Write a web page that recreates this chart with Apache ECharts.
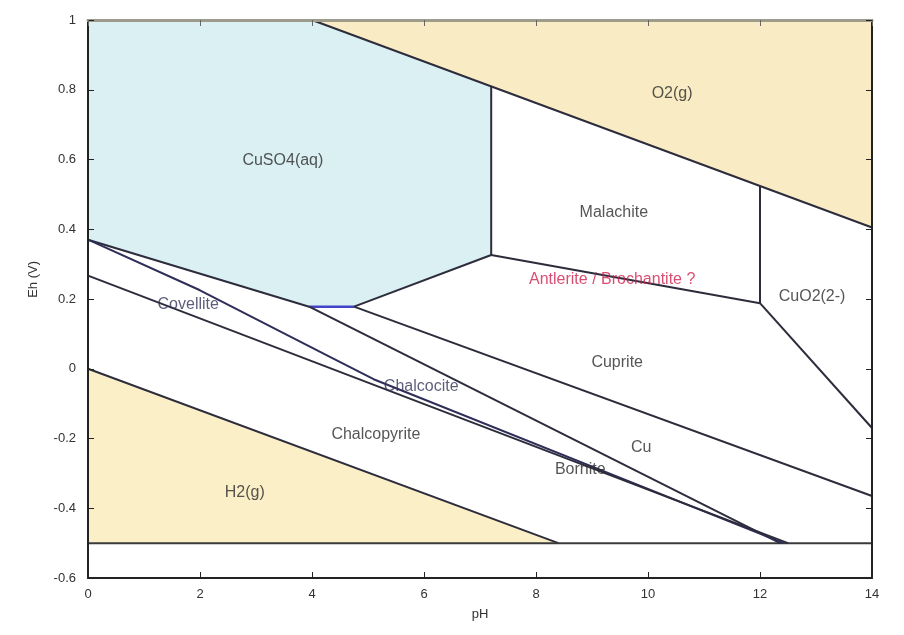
<!DOCTYPE html>
<html>
<head>
<meta charset="utf-8">
<script src="https://cdn.jsdelivr.net/npm/echarts@6/dist/echarts.min.js"></script>
<style>
html,body{margin:0;padding:0;background:#fff;}
#chart{width:904px;height:635px;}
</style>
</head>
<body>
<div id="chart"></div>
<script>
// ---- data (pH, Eh in V) ----
const xTicks = [0, 2, 4, 6, 8, 10, 12, 14];
const yTicks = [-0.6, -0.4, -0.2, 0, 0.2, 0.4, 0.6, 0.8, 1];

const o2Region = [[4.0, 1.0], [14, 1.0], [14, 0.405]];
const h2Region = [[0, 0], [8.4, -0.5], [0, -0.5]];
const cuso4Region = [[0, 1.0], [4.0, 1.0], [7.2, 0.81], [7.2, 0.326], [4.75, 0.178], [3.95, 0.178], [0, 0.37]];

const o2Line = [[4.0, 1.0], [14, 0.405]];
const h2Line = [[0, 0], [8.4, -0.5]];
const lowerLimit = [[0, -0.5], [14, -0.5]];
const cuso4Lower = [[0, 0.37], [3.95, 0.178]];
const cuso4Flat = [[3.95, 0.178], [4.75, 0.178]];
const cuso4Right = [[4.75, 0.178], [7.2, 0.326], [7.2, 0.81]];
const malachiteLower = [[7.2, 0.326], [12, 0.188]];
const malachiteRight = [[12, 0.188], [12, 0.524]];
const cuo2Lower = [[12, 0.188], [14, -0.17]];
const cupriteLower = [[4.75, 0.178], [14, -0.365]];
const cuLower = [[3.95, 0.178], [12.36, -0.5]];
const chalcociteUpper = [[0, 0.37], [2.0, 0.225], [4.32, 0.034], [5.1, -0.03], [12.42, -0.5]];
const chalcopyriteUpper = [[0, 0.267], [12.5, -0.5]];

const labelNames = ['CuSO4(aq)', 'O2(g)', 'Malachite', 'Antlerite / Brochantite ?', 'CuO2(2-)', 'Covellite',
  'Cuprite', 'Chalcocite', 'Chalcopyrite', 'Cu', 'Bornite', 'H2(g)'];
const labelPH = [3.48, 10.43, 9.39, 9.36, 12.93, 1.79, 9.45, 5.95, 5.14, 9.88, 8.79, 2.8];
const labelEh = [0.598, 0.79, 0.449, 0.257, 0.208, 0.183, 0.019, -0.05, -0.188, -0.225, -0.29, -0.354];
const labelColors = ['#2a2a2a', '#2a2a2a', '#2a2a2a', '#d0204e', '#2a2a2a', '#34345a', '#2a2a2a', '#34345a', '#2a2a2a', '#2a2a2a', '#2a2a2a', '#2a2a2a'];

// ---- chart ----
const chart = echarts.init(document.getElementById('chart'));
const lineColor = '#2c2c3c';
const fmt = v => String(Math.round(v * 10) / 10);

function polySeries(pts, color) {
  return {
    type: 'custom',
    silent: true,
    z: 1,
    data: [[0, 0]],
    renderItem: (params, api) => ({
      type: 'polygon',
      shape: { points: pts.map(p => api.coord(p)) },
      style: { fill: color }
    })
  };
}
function lineSeries(pts, color, width) {
  return {
    type: 'line',
    data: pts,
    showSymbol: false,
    symbol: 'none',
    silent: true,
    z: 3,
    lineStyle: { color: color || lineColor, width: width || 2 }
  };
}

const txt = { fontFamily: 'Liberation Sans', fontSize: 13, color: '#333' };

const option = {
  animation: false,
  backgroundColor: '#ffffff',
  grid: { left: 88, right: 32, top: 20, bottom: 57 },
  graphic: [{
    type: 'text',
    left: 27,
    top: 261,
    rotation: Math.PI / 2,
    style: { text: 'Eh (V)', font: '13px "Liberation Sans"', fill: '#333' }
  }],
  xAxis: [{
    type: 'value', min: xTicks[0], max: xTicks[xTicks.length - 1], interval: 2, z: 10,
    name: 'pH', nameLocation: 'middle', nameGap: 30, nameTextStyle: txt,
    axisLine: { onZero: false, lineStyle: { color: '#222', width: 2 } },
    axisTick: { inside: true, length: 6, lineStyle: { color: '#222' } },
    axisLabel: Object.assign({ margin: 10, formatter: fmt }, txt),
    splitLine: { show: false }
  }, {
    type: 'value', position: 'top', min: xTicks[0], max: xTicks[xTicks.length - 1], interval: 2, z: 10,
    axisLine: { onZero: false, lineStyle: { color: '#9d9c8c', width: 3 } },
    axisTick: { inside: true, length: 6, lineStyle: { color: '#666' } },
    axisLabel: { show: false },
    splitLine: { show: false }
  }],
  yAxis: [{
    type: 'value', min: yTicks[0], max: yTicks[yTicks.length - 1], interval: 0.2, z: 10,
    axisLine: { onZero: false, lineStyle: { color: '#222', width: 2 } },
    axisTick: { inside: true, length: 6, lineStyle: { color: '#222' } },
    axisLabel: Object.assign({ margin: 12, formatter: fmt }, txt),
    splitLine: { show: false }
  }, {
    type: 'value', position: 'right', min: yTicks[0], max: yTicks[yTicks.length - 1], interval: 0.2, z: 10,
    axisLine: { onZero: false, lineStyle: { color: '#222', width: 2 } },
    axisTick: { inside: true, length: 6, lineStyle: { color: '#222' } },
    axisLabel: { show: false },
    splitLine: { show: false }
  }],
  series: [
    polySeries(o2Region, '#f9ebc3'),
    polySeries(h2Region, '#faefc6'),
    polySeries(cuso4Region, '#daf0f3'),
    lineSeries(o2Line),
    lineSeries(h2Line),
    lineSeries(lowerLimit, '#3a3a3a', 2),
    lineSeries(cuso4Lower),
    lineSeries(cuso4Flat, '#4444c8', 2.5),
    lineSeries(cuso4Right),
    lineSeries(malachiteLower),
    lineSeries(malachiteRight),
    lineSeries(cuo2Lower),
    lineSeries(cupriteLower),
    lineSeries(cuLower),
    lineSeries(chalcociteUpper, '#2e2e58'),
    lineSeries(chalcopyriteUpper),
    {
      type: 'scatter',
      symbolSize: 0,
      silent: true,
      z: 5,
      data: labelNames.map((n, i) => ({
        name: n,
        value: [labelPH[i], labelEh[i]],
        label: { color: labelColors[i] }
      })),
      label: {
        show: true,
        position: 'inside',
        formatter: p => p.name,
        fontFamily: 'Liberation Sans',
        fontSize: 16
      }
    }
  ]
};
chart.setOption(option);
</script>
</body>
</html>
